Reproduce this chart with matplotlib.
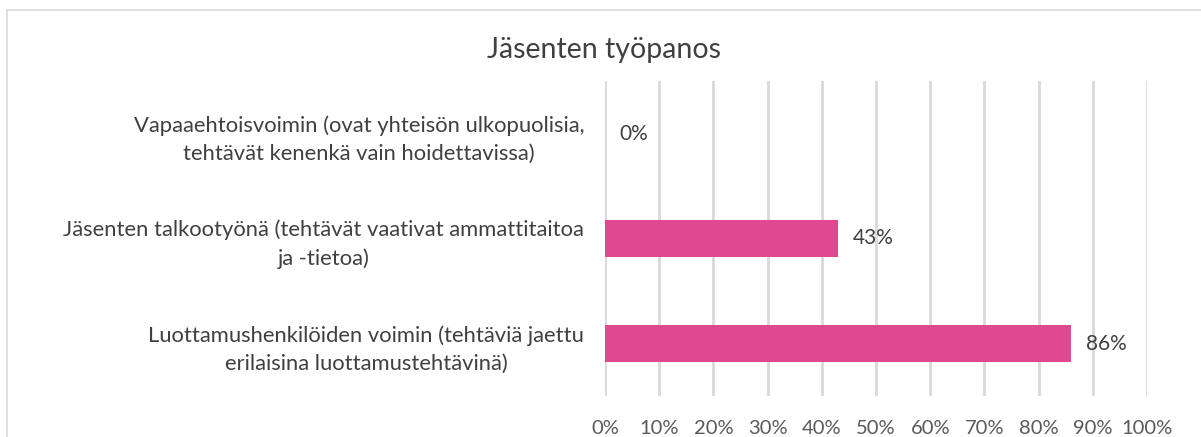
import matplotlib
matplotlib.use("Agg")
import matplotlib.pyplot as plt
from matplotlib.patches import Rectangle

categories = [
    "Vapaaehtoisvoimin (ovat yhteisön ulkopuolisia,\ntehtävät kenenkä vain hoidettavissa)",
    "Jäsenten talkootyönä (tehtävät vaativat ammattitaitoa\nja -tietoa)",
    "Luottamushenkilöiden voimin (tehtäviä jaettu\nerilaisina luottamustehtävinä)",
]
values = [0, 43, 86]
ticks = [0, 10, 20, 30, 40, 50, 60, 70, 80, 90, 100]
tick_labels = [f"{t}%" for t in ticks]
title = "Jäsenten työpanos"

plt.rcParams['font.family'] = ['Lato', 'DejaVu Sans']

W, H = 1201, 437
fig = plt.figure(figsize=(W / 100, H / 100), dpi=100)
fig.patch.set_facecolor("white")

# chart border (top and left visible)
fig.add_artist(Rectangle((7 / W, -0.1), 1.2, (H - 10) / H + 0.1, transform=fig.transFigure,
                         fill=False, edgecolor="#d9d9d9", linewidth=1.2))

x0, x1 = 605, 1147
y0, y1 = 81, 396
ax = fig.add_axes([x0 / W, 1 - y1 / H, (x1 - x0) / W, (y1 - y0) / H])
ax.set_facecolor("none")

ypos = list(range(len(categories)))
ax.barh(ypos, values, height=0.35, color="#e0488f", zorder=3)
ax.set_xlim(0, 100)
ax.set_ylim(len(categories) - 0.5, -0.5)

ax.set_xticks(ticks)
ax.set_xticklabels(tick_labels, fontsize=14.5, color="#595959")
ax.tick_params(axis="x", length=0, pad=17)
ax.set_yticks(ypos)
ax.set_yticklabels(categories, fontsize=15.8, color="#404040",
                   multialignment="center", linespacing=1.5)
ax.tick_params(axis="y", length=0, pad=15)

ax.grid(axis="x", color="#d9d9d9", linewidth=2, zorder=0)
for s in ax.spines.values():
    s.set_visible(False)

for y, v in zip(ypos, values):
    ax.text(v + 2.7, y, f"{v}%", va="center", ha="left", fontsize=15, color="#404040", zorder=4)

fig.text(604 / W, 1 - 50 / H, title, ha="center", va="center", fontsize=20.5, color="#404040")

fig.savefig("out.png", dpi=100)
